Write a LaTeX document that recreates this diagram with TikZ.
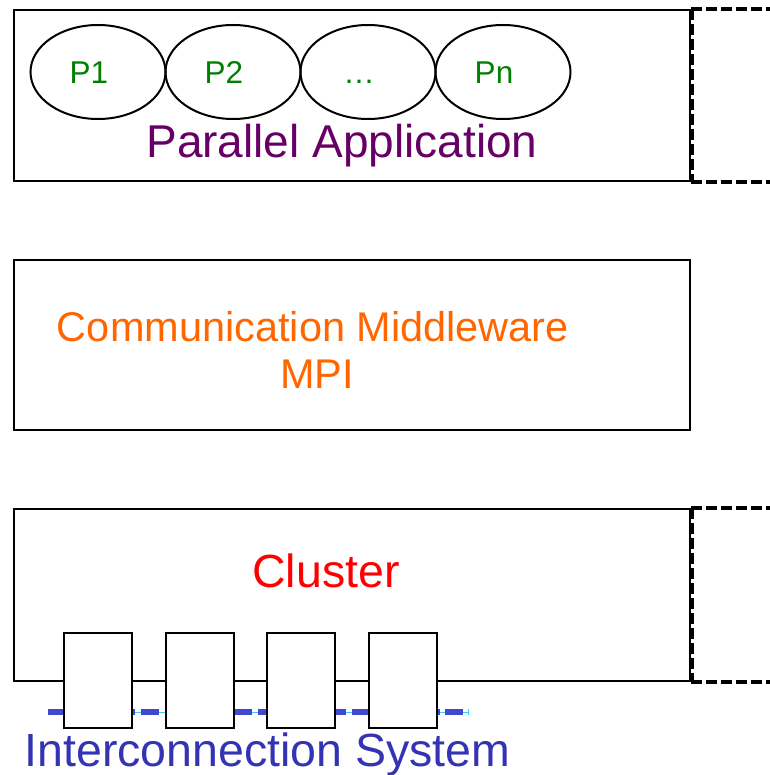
\documentclass[tikz,border=0pt]{standalone}
\usepackage{fontspec}
\setmainfont{Liberation Sans}
\usetikzlibrary{arrows.meta,positioning,shapes.geometric}

\definecolor{appviolet}{RGB}{102,0,102}
\definecolor{procgreen}{RGB}{0,128,0}
\definecolor{mworange}{RGB}{255,102,0}
\definecolor{netblue}{RGB}{51,51,180}
\definecolor{busblue}{RGB}{64,72,210}
\definecolor{wirecyan}{RGB}{60,200,255}

\begin{document}
\begin{tikzpicture}[x=1pt,y=-1pt,
  layer/.style={draw,line width=2pt,minimum width=676pt,minimum height=171pt,inner sep=0pt},
  proc/.style={ellipse,draw,line width=2pt,minimum width=135pt,minimum height=94pt,inner sep=0pt},
  plabel/.style={font=\fontsize{31.5}{31.5}\selectfont,text=procgreen,text height=24pt,text depth=0pt,inner sep=0pt,xshift=-9pt},
  nodebox/.style={draw,line width=2pt,fill=white,minimum width=68pt,minimum height=95pt,inner sep=0pt},
  ext/.style={line width=3.2pt,dash pattern=on 11pt off 4pt},
  title/.style={anchor=base,inner sep=0pt}]
\useasboundingbox (0,0) rectangle (769,775);

% parallel application
\node[layer] (app) at (352,95.5) {};
\draw[ext] (app.north east) -- ++(80,0);
\draw[ext] (app.south east) -- ++(80,0);
\draw[ext] ([xshift=1.5pt]app.north east) -- ([xshift=1.5pt]app.south east);
\node[proc,label={[plabel]center:P1}] (p1) at (98,72) {};
\node[proc,right=-2pt of p1,label={[plabel]center:P2}] (p2) {};
\node[proc,right=-2pt of p2,label={[plabel]center:…}] (pdots) {};
\node[proc,right=-2pt of pdots,label={[plabel]center:Pn}] (pn) {};
\node[title,font=\fontsize{46}{46}\selectfont,text=appviolet] (apptxt) at (342,158) {Parallel Application};

% middleware
\node[layer,minimum height=170pt] (mw) at (352,345) {};
\node[title,font=\fontsize{41.5}{41.5}\selectfont,text=mworange] (mwtxt) at (313,341.5) {Communication Middleware};
\node[title,font=\fontsize{41.5}{41.5}\selectfont,text=mworange] (mpitxt) at (317,388) {MPI};

% cluster
\node[layer,minimum height=172pt] (cluster) at (352,595) {};
\draw[ext] (cluster.north east) -- ++(80,0);
\draw[ext] (cluster.south east) -- ++(80,0);
\draw[ext] ([xshift=1.5pt]cluster.north east) -- ([xshift=1.5pt]cluster.south east);
\node[title,font=\fontsize{46.5}{46.5}\selectfont,text=red] (clustertxt) at (326,587) {Cluster};

\coordinate (busw) at (47.5,712);
\coordinate (buse) at (469,712);
\draw[wirecyan,line width=1pt,-{Bar[width=6pt,line width=0.8pt]}] (busw) -- (buse);
\draw[busblue,line width=5.3pt,dash pattern=on 17.7pt off 5.7pt] (busw) -- ([xshift=-4pt]buse);
\node[nodebox] (n1) at (98,680.5) {};
\node[nodebox,right=31.5pt of n1] (n2) {};
\node[nodebox,right=31.5pt of n2] (n3) {};
\node[nodebox,right=31.5pt of n3] (n4) {};
\node[title,font=\fontsize{46.5}{46.5}\selectfont,text=netblue] (bustxt) at (267.5,766) {Interconnection System};
\end{tikzpicture}
\end{document}
